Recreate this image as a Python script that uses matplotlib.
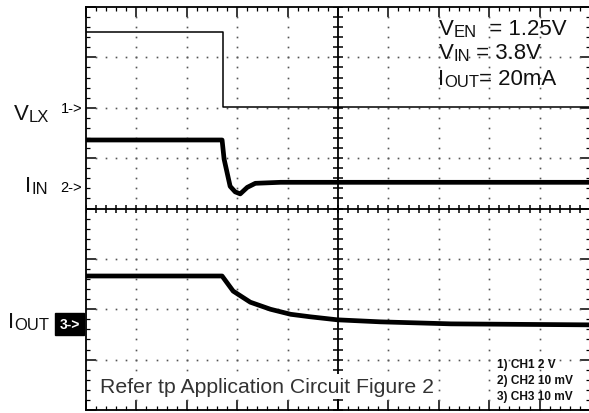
import matplotlib.pyplot as plt
import numpy as np

plt.rcParams['font.family'] = ['Liberation Sans', 'DejaVu Sans']

# screen in divisions: 10 horizontal, 8 vertical (0 = bottom)
ch1_t = [0.0, 2.71, 2.71, 10.0]
ch1_v = [7.51, 7.51, 6.01, 6.01]

ch2_t = [0.0, 2.70, 2.74, 2.86, 2.96, 3.06, 3.20, 3.36, 3.86, 10.0]
ch2_v = [5.36, 5.36, 4.98, 4.44, 4.33, 4.29, 4.42, 4.50, 4.52, 4.52]

ch3_t = [0.0, 2.70, 2.92, 3.26, 3.66, 4.06, 4.45, 4.99, 5.84, 7.24, 10.0]
ch3_v = [2.66, 2.66, 2.36, 2.14, 2.00, 1.90, 1.85, 1.79, 1.75, 1.71, 1.69]

W, H = 589, 414
fig = plt.figure(figsize=(W / 100, H / 100), dpi=100)
ax = fig.add_axes([86 / W, 3 / H, 504 / W, 403 / H])
ax.set_xlim(0, 10)
ax.set_ylim(0, 8)

# frame ticks
ax.set_xticks(np.arange(0, 11))
ax.set_yticks(np.arange(0, 9))
ax.set_xticks(np.arange(0, 10.01, 0.2), minor=True)
ax.set_yticks(np.arange(0, 8.01, 0.2), minor=True)
ax.tick_params(which='both', direction='in', top=True, right=True,
               labelbottom=False, labelleft=False, color='black')
ax.tick_params(which='major', length=7, width=1.1)
ax.tick_params(which='minor', length=3, width=0.9)
for s in ax.spines.values():
    s.set_linewidth(1.3)

# dotted graticule
dots = np.arange(0, 10.01, 0.2)
yy = np.arange(0, 8.01, 0.2)
for gx in [1, 2, 3, 4, 6, 7, 8, 9]:
    ax.plot(np.full_like(yy, gx), yy, 's', ms=1.2, color='#555555', mew=0)
for gy in [1, 2, 3, 5, 6, 7]:
    ax.plot(dots, np.full_like(dots, gy), 's', ms=1.2, color='#555555', mew=0)

# centre axes with crossing ticks
ax.axvline(5, color='black', lw=1.3)
ax.axhline(4, color='black', lw=1.3)
ax.plot(np.full_like(yy, 5), yy, '_', ms=7, mew=1.1, color='black')
ax.plot(dots, np.full_like(dots, 4), '|', ms=6, mew=1.1, color='black')

# traces
ax.plot(ch1_t, ch1_v, color='black', lw=1.1)
ax.plot(ch2_t, ch2_v, color='black', lw=3.4, solid_joinstyle='round')
ax.plot(ch3_t, ch3_v, color='black', lw=3.4, solid_joinstyle='round')


def px(x, y):
    return x / W, 1 - y / H


def label(x, y, main, sub, rest='', big=16, small=12, color='#111111'):
    t = fig.text(*px(x, y), main, fontsize=big, va='baseline', color=color)
    s = ax.annotate(sub, xy=(1, 0), xycoords=t, va='bottom', fontsize=small,
                    color=color)
    if rest:
        ax.annotate(rest, xy=(1, 0), xycoords=s, va='bottom', fontsize=big,
                    color=color)


label(439, 35, 'V', 'EN', '  = 1.25V')
label(439, 59, 'V', 'IN', ' = 3.8V')
label(438, 85, 'I', 'OUT', '= 20mA')

label(14, 120, 'V', 'LX')
label(25, 192, 'I', 'IN')
label(8, 328, 'I', 'OUT')

fig.text(*px(82, 113), '1->', fontsize=10.5, ha='right', va='baseline')
fig.text(*px(82, 192), '2->', fontsize=10.5, ha='right', va='baseline')
fig.text(*px(80, 325), '3->', fontsize=10, ha='right', va='center',
         color='white', fontweight='bold',
         bbox=dict(facecolor='black', edgecolor='black', pad=3))

fig.text(*px(100, 393), 'Refer tp Application Circuit Figure 2', fontsize=15.3,
         va='baseline', color='#333333', zorder=5,
         bbox=dict(facecolor='white', edgecolor='none', pad=2.5))

for i, s in enumerate(['1) CH1 2 V', '2) CH2 10 mV', '3) CH3 10 mV']):
    fig.text(*px(497, 368 + 16 * i), s, fontsize=8.6, fontweight='bold',
             va='baseline', color='#111111')

fig.savefig('out.png', dpi=100)
